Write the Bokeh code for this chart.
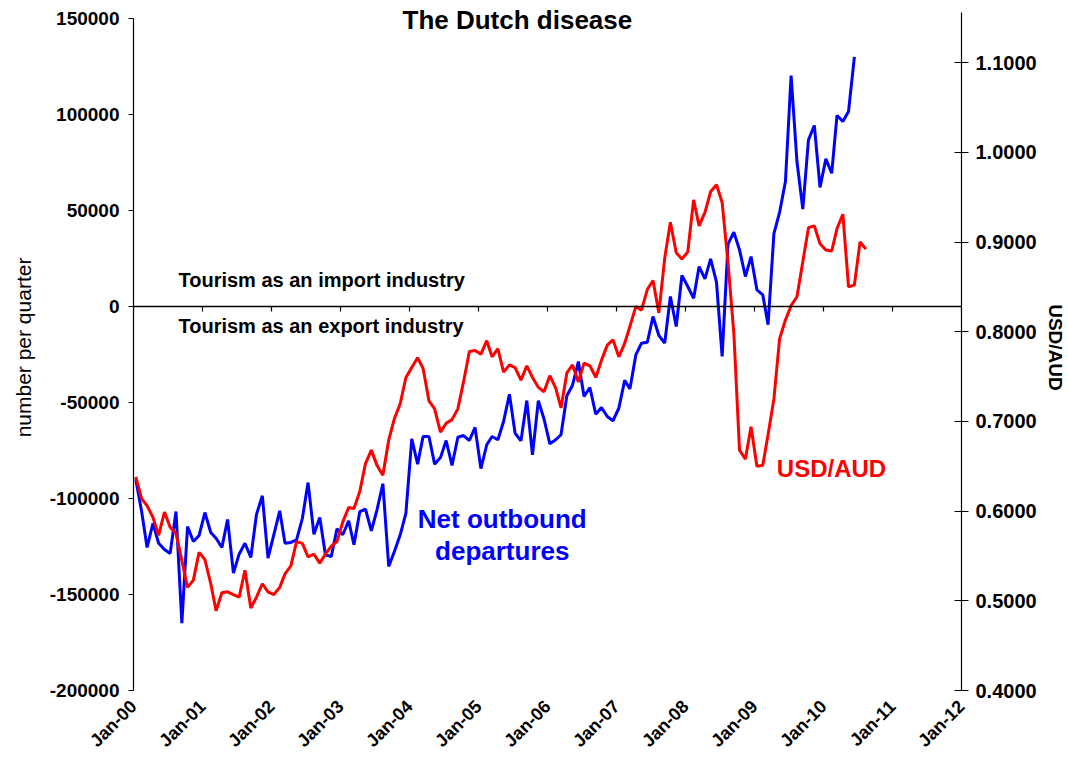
import math
from datetime import datetime
import pandas as pd
from bokeh.plotting import figure
from bokeh.models import (Range1d, LinearAxis, DatetimeAxis, FixedTicker,
                          DatetimeTickFormatter, NumeralTickFormatter, Label)
from bokeh.embed import file_html
from bokeh.resources import INLINE

FONT = "Liberation Sans"

# ---------------- data ----------------
# Net outbound departures (number per quarter), monthly from Jan-2000
net_departures = [
    -90000, -106800, -125500, -112900, -123300, -126600, -128600, -106800, -164900, -114600,
    -122400, -119300, -107300, -117700, -120700, -125500, -110900, -138900, -129000, -123300,
    -130700, -108300, -98600, -131100, -118800, -106400, -123300, -122900, -121500, -110300,
    -91700, -118600, -109900, -129300, -130200, -115800, -118900, -111600, -124100, -106800,
    -105600, -116800, -105900, -92300, -135400, -127600, -118900, -107600, -68900, -82100,
    -67700, -67700, -82100, -78700, -69800, -82800, -68100, -67200, -69800, -63000,
    -84400, -72000, -67700, -69400, -59900, -45700, -66000, -70000, -49000, -77200,
    -49000, -58600, -71500, -69400, -66800, -46500, -41000, -28700, -46900, -42200,
    -56100, -52600, -57300, -59500, -53000, -38500, -42900, -25200, -19100, -18600,
    -5200, -15100, -19100, 5200, -10400, 16200, 10400, 4300, 20800, 14400,
    24800, 12700, -26000, 32500, 38700, 29500, 15600, 26000, 8700, 6100,
    -9500, 38000, 49000, 65100, 120300, 75500, 50700, 86800, 94300, 62000,
    76900, 69400, 99500, 96400, 101600, 130000,
]

# USD/AUD exchange rate, monthly from Jan-2000
usd_aud = [
    0.638, 0.614, 0.606, 0.593, 0.573, 0.599, 0.582, 0.575, 0.545, 0.515,
    0.523, 0.554, 0.546, 0.519, 0.489, 0.509, 0.510, 0.507, 0.504, 0.534,
    0.492, 0.504, 0.519, 0.510, 0.507, 0.515, 0.530, 0.539, 0.566, 0.564,
    0.549, 0.552, 0.542, 0.552, 0.561, 0.566, 0.588, 0.604, 0.603, 0.622,
    0.653, 0.668, 0.651, 0.640, 0.679, 0.703, 0.720, 0.749, 0.760, 0.771,
    0.759, 0.723, 0.714, 0.688, 0.698, 0.702, 0.714, 0.744, 0.778, 0.779,
    0.775, 0.790, 0.772, 0.781, 0.755, 0.763, 0.760, 0.746, 0.762, 0.749,
    0.738, 0.733, 0.751, 0.737, 0.715, 0.754, 0.763, 0.744, 0.765, 0.762,
    0.749, 0.768, 0.785, 0.791, 0.772, 0.787, 0.806, 0.828, 0.824, 0.847,
    0.857, 0.821, 0.882, 0.922, 0.888, 0.881, 0.889, 0.947, 0.918, 0.933,
    0.956, 0.964, 0.944, 0.877, 0.798, 0.668, 0.658, 0.694, 0.650, 0.651,
    0.685, 0.725, 0.792, 0.813, 0.829, 0.839, 0.878, 0.916, 0.918, 0.898,
    0.891, 0.890, 0.915, 0.931, 0.850, 0.852, 0.900, 0.892,
]

tick_years = list(range(2000, 2013))
left_ticks = [-200000, -150000, -100000, -50000, 0, 50000, 100000, 150000]
right_ticks = [0.4, 0.5, 0.6, 0.7, 0.8, 0.9, 1.0, 1.1]

dates_dep = pd.date_range("2000-01-01", periods=len(net_departures), freq="MS") + pd.Timedelta(days=12)
dates_fx = pd.date_range("2000-01-01", periods=len(usd_aud), freq="MS") + pd.Timedelta(days=12)
x_ticks_ms = [pd.Timestamp(f"{y}-01-01").timestamp() * 1000 for y in tick_years]

# ---------------- figure ----------------
# frame extends slightly above the 150000 line so the title fits inside it
LEFT_TOP = 150000 + 14 * 50000 / 96
RIGHT_TOP = 0.4 + 686 / 897

p = figure(width=1068, height=768, frame_width=828, frame_height=686,
           output_backend="svg", toolbar_location=None,
           x_axis_type="datetime",
           x_range=Range1d(datetime(2000, 1, 1), datetime(2012, 1, 1)),
           y_range=Range1d(-200000, LEFT_TOP),
           min_border_left=133, min_border_right=107, min_border_top=4, min_border_bottom=78)
p.outline_line_color = None
p.xgrid.visible = False
p.ygrid.visible = False
p.background_fill_color = "white"
p.border_fill_color = "white"

p.extra_y_ranges = {"fx": Range1d(0.4, RIGHT_TOP)}

fmt = DatetimeTickFormatter(years="%b-%y", months="%b-%y", days="%b-%y",
                            hours="%b-%y", minutes="%b-%y", seconds="%b-%y",
                            milliseconds="%b-%y", microseconds="%b-%y")

# bottom axis: labels only
xa = p.xaxis[0]
xa.ticker = FixedTicker(ticks=x_ticks_ms)
xa.formatter = fmt
xa.axis_line_color = None
xa.major_tick_line_color = None
xa.minor_tick_line_color = None
xa.major_label_orientation = math.pi / 4
xa.major_label_standoff = 7
xa.major_label_text_font = FONT
xa.major_label_text_font_style = "bold"
xa.major_label_text_font_size = "18px"
xa.major_label_text_color = "black"

# zero line axis with ticks
za = DatetimeAxis(fixed_location=0, ticker=FixedTicker(ticks=x_ticks_ms), formatter=fmt)
za.axis_line_color = "black"
za.axis_line_width = 1.5
za.major_tick_line_color = "black"
za.major_tick_line_width = 1.2
za.major_tick_in = 0
za.major_tick_out = 5
za.minor_tick_line_color = None
za.major_label_text_font_size = "0px"
za.major_label_text_alpha = 0
p.add_layout(za, "below")

# left axis
ya = p.yaxis[0]
ya.ticker = FixedTicker(ticks=left_ticks)
ya.formatter = NumeralTickFormatter(format="0")
ya.bounds = (-200000, 150000)
ya.major_tick_in = 0
ya.major_tick_out = 5
ya.minor_tick_line_color = None
ya.axis_line_color = "black"
ya.axis_line_width = 1.2
ya.major_tick_line_width = 1.2
ya.major_label_standoff = 9
ya.major_label_text_font = FONT
ya.major_label_text_font_style = "bold"
ya.major_label_text_font_size = "19px"
ya.major_label_text_color = "black"
ya.axis_label = "number per quarter"
ya.axis_label_text_font = FONT
ya.axis_label_text_font_style = "normal"
ya.axis_label_text_font_size = "21px"
ya.axis_label_text_color = "black"
ya.axis_label_standoff = 12

# right axis
ra = LinearAxis(y_range_name="fx", ticker=FixedTicker(ticks=right_ticks),
                formatter=NumeralTickFormatter(format="0.0000"))
ra.bounds = (0.4, 0.4 + 678 / 897)
ra.major_tick_in = 7
ra.major_tick_out = 7
ra.minor_tick_line_color = None
ra.axis_line_width = 1.2
ra.major_tick_line_width = 1.2
ra.major_label_standoff = 7
ra.major_label_text_font = FONT
ra.major_label_text_font_style = "bold"
ra.major_label_text_font_size = "20px"
ra.major_label_text_color = "black"
ra.axis_label = "USD/AUD"
ra.axis_label_text_font = FONT
ra.axis_label_text_font_style = "bold"
ra.axis_label_text_font_size = "19px"
ra.axis_label_text_color = "black"
ra.axis_label_standoff = 5
p.add_layout(ra, "right")

# series
p.line(dates_dep, net_departures, line_color="#0000FF", line_width=3)
p.line(dates_fx, usd_aud, line_color="#FF0000", line_width=3, y_range_name="fx")

# annotations
def lab(x, y, text, size, color="black", align="left"):
    p.add_layout(Label(x=pd.Timestamp(x).timestamp() * 1000, y=y, text=text,
                       text_font=FONT, text_font_style="bold", text_font_size=size,
                       text_color=color, text_align=align, text_baseline="middle"))

lab("2005-07-25", 148960, "The Dutch disease", "26px", align="center")
lab("2000-08-26", 14000, "Tourism as an import industry", "20px")
lab("2000-08-26", -10400, "Tourism as an export industry", "20px")
lab("2005-05-06", -110900, "Net outbound", "26px", color="#0000FF", align="center")
lab("2005-05-06", -127600, "departures", "26px", color="#0000FF", align="center")
lab("2010-02-12", -84400, "USD/AUD", "24px", color="#FF0000", align="center")

open("out.html", "w").write(file_html(p, INLINE))
